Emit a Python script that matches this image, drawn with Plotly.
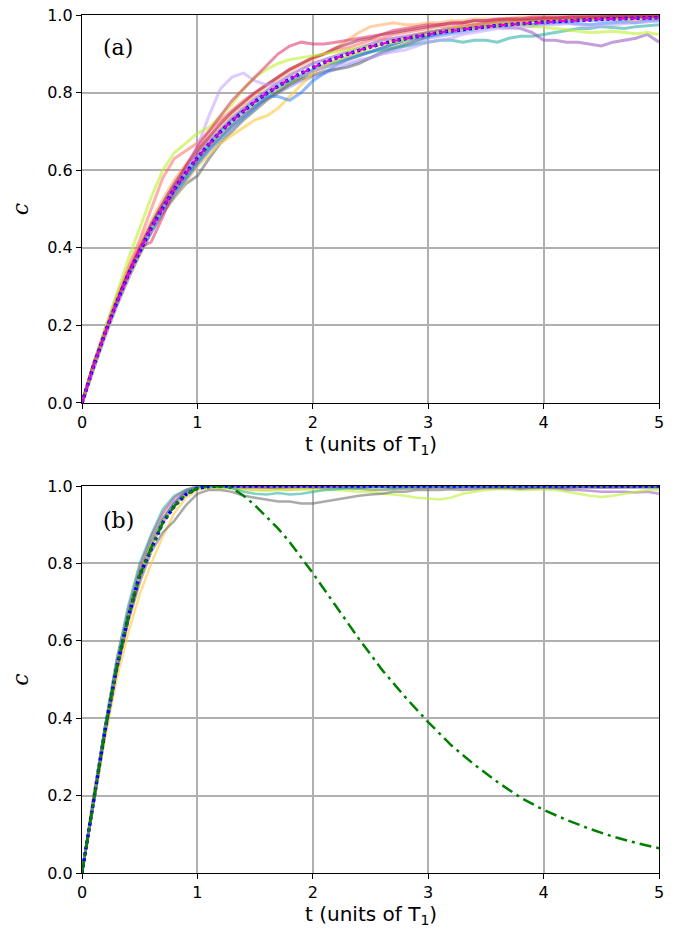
import plotly.graph_objects as go

# ---------------- data ----------------
t_grid = [round(0.1 * i, 1) for i in range(51)]

# panel (a): averaged curves
mean_a = [0.000, 0.095, 0.181, 0.259, 0.330, 0.393, 0.451, 0.503, 0.551, 0.593, 0.632,
          0.667, 0.699, 0.727, 0.753, 0.777, 0.798, 0.817, 0.835, 0.850, 0.865,
          0.878, 0.889, 0.900, 0.909, 0.918, 0.926, 0.933, 0.939, 0.945, 0.950,
          0.955, 0.959, 0.963, 0.967, 0.970, 0.973, 0.975, 0.978, 0.980, 0.982,
          0.983, 0.985, 0.986, 0.988, 0.989, 0.990, 0.991, 0.992, 0.993, 0.993]

# panel (a): individual trajectories
a_greenyellow = [0, .10, .19, .28, .37, .45, .53, .60, .645, .67, .695,
                 .71, .74, .77, .81, .84, .86, .875, .885, .89, .895,
                 .90, .905, .91, .915, .92, .925, .93, .935, .945, .95,
                 .955, .96, .962, .966, .97, .972, .975, .975, .972, .968,
                 .966, .962, .958, .955, .956, .958, .955, .952, .955, .950]
a_lavender = [0, .09, .17, .25, .32, .39, .45, .50, .55, .60, .66,
              .74, .81, .84, .85, .83, .82, .825, .835, .845, .855,
              .865, .87, .875, .885, .89, .90, .905, .91, .92, .93,
              .935, .94, .95, .955, .96, .965, .965, .97, .97, .975,
              .975, .978, .975, .97, .972, .975, .978, .98, .982, .985]
a_crimson = [0, .10, .18, .26, .33, .40, .415, .48, .55, .61, .66,
             .70, .74, .78, .81, .84, .87, .90, .92, .93, .925,
             .925, .93, .935, .94, .945, .95, .96, .965, .97, .975,
             .975, .98, .98, .985, .985, .99, .99, .99, .995, .995,
             .995, .995, .998, .998, .998, .998, .998, .998, .998, .998]
a_gold = [0, .09, .17, .25, .32, .38, .44, .49, .53, .57, .61,
          .64, .67, .69, .71, .73, .74, .76, .79, .82, .85,
          .87, .885, .895, .905, .915, .925, .935, .94, .95, .955,
          .96, .965, .97, .97, .975, .978, .98, .982, .985, .985,
          .988, .99, .99, .99, .992, .99, .99, .988, .99, .99]
a_dodger = [0, .095, .18, .255, .325, .385, .44, .49, .535, .575, .615,
            .65, .68, .71, .735, .76, .79, .79, .78, .80, .83,
            .85, .87, .885, .895, .905, .915, .925, .935, .94, .945,
            .95, .955, .96, .965, .97, .972, .975, .975, .975, .978,
            .98, .98, .978, .975, .978, .98, .982, .98, .985, .985]
a_teal = [0, .10, .185, .26, .33, .39, .45, .50, .55, .59, .63,
          .665, .70, .73, .755, .775, .795, .815, .83, .845, .86,
          .87, .88, .89, .90, .905, .91, .915, .92, .925, .93,
          .935, .935, .93, .935, .935, .93, .94, .945, .945, .95,
          .955, .96, .965, .965, .97, .968, .965, .97, .972, .975]
a_orchid = [0, .095, .18, .26, .335, .40, .46, .51, .56, .60, .64,
            .675, .705, .735, .76, .785, .805, .825, .845, .86, .875,
            .885, .895, .905, .915, .925, .935, .94, .945, .95, .955,
            .96, .962, .965, .968, .97, .97, .968, .965, .955, .935,
            .935, .93, .93, .925, .92, .93, .935, .94, .95, .93]
a_gray = [0, .09, .175, .25, .32, .385, .44, .49, .53, .565, .585,
          .63, .67, .70, .73, .755, .78, .80, .82, .835, .845,
          .855, .86, .865, .875, .89, .905, .915, .925, .935, .945,
          .955, .96, .965, .97, .975, .978, .98, .985, .985, .988,
          .99, .99, .992, .992, .995, .995, .995, .995, .995, .995]
a_peach = [0, .10, .19, .27, .345, .41, .47, .525, .575, .615, .65,
           .685, .715, .745, .77, .795, .815, .835, .855, .87, .885,
           .90, .915, .935, .955, .97, .975, .98, .975, .975, .98,
           .98, .985, .985, .99, .99, .99, .992, .995, .995, .995,
           .995, .995, .996, .996, .997, .997, .997, .997, .998, .998]
a_salmon = [0, .10, .19, .275, .35, .42, .50, .58, .63, .65, .67,
            .70, .73, .755, .78, .80, .82, .84, .86, .875, .89,
            .90, .91, .915, .925, .935, .94, .95, .955, .96, .965,
            .97, .97, .975, .975, .98, .985, .985, .985, .99, .99,
            .99, .992, .992, .995, .995, .995, .995, .996, .996, .996]
a_olive = [0, .095, .18, .26, .33, .39, .45, .50, .545, .58, .62,
           .655, .685, .715, .74, .765, .785, .805, .825, .84, .855,
           .865, .875, .885, .895, .905, .915, .925, .935, .945, .955,
           .96, .965, .97, .975, .978, .98, .982, .985, .985, .987,
           .988, .99, .99, .99, .992, .992, .994, .994, .995, .995]
a_maroon = [0, .10, .185, .265, .335, .40, .46, .515, .565, .61, .65,
            .685, .72, .75, .775, .80, .82, .84, .86, .875, .89,
            .90, .915, .925, .935, .94, .95, .955, .96, .965, .97,
            .975, .978, .98, .985, .985, .988, .99, .99, .99, .992,
            .992, .994, .994, .995, .995, .996, .996, .996, .996, .997]
a_periwinkle = [0, .09, .175, .255, .325, .385, .445, .495, .545, .585, .625,
                .66, .69, .72, .745, .765, .785, .80, .815, .83, .84,
                .85, .86, .87, .88, .89, .90, .91, .92, .93, .94,
                .945, .95, .955, .96, .965, .97, .972, .975, .975, .978,
                .98, .982, .985, .985, .986, .988, .988, .99, .99, .99]

# panel (b): averaged curve
mean_b = [0, .19, .37, .53, .66, .77, .84, .905, .948, .978, .994,
          .999, 1, 1, 1, 1, 1, 1, 1, 1, 1,
          1, 1, 1, 1, 1, 1, 1, 1, 1, 1,
          1, 1, 1, 1, 1, 1, 1, 1, 1, 1,
          1, 1, 1, 1, 1, 1, 1, 1, 1, 1]

# panel (b): green dash-dot curve
t_green = [0, .1, .2, .3, .4, .5, .6, .7, .8, .9, 1.0, 1.1, 1.2, 1.3, 1.4, 1.5, 1.6, 1.7, 1.8, 1.9,
           2.0, 2.2, 2.4, 2.6, 2.8, 3.0, 3.2, 3.4, 3.6, 3.8, 4.0, 4.2, 4.4, 4.6, 4.8, 5.0]
c_green = [0, .19, .37, .53, .66, .77, .84, .905, .948, .978, .994, .999, 1.0, .995, .975, .95, .92,
           .89, .855, .815, .775, .69, .605, .525, .455, .39, .33, .28, .235, .195, .163, .137,
           .114, .094, .078, .064]

# panel (b): individual trajectories
b_teal = [0, .19, .38, .55, .69, .80, .875, .94, .975, .99, .998,
          1.0, 1.0, .995, .985, .98, .978, .982, .978, .98, .985,
          .99, .992, .995, .995, .997, .997, .995, .997, .998, .998,
          .998, .997, .998, .998, .999, .998, .998, .999, .999, .998,
          .998, .999, .998, .998, .999, .999, .998, .998, .999, .999]
b_gray = [0, .185, .36, .52, .65, .75, .83, .88, .91, .95, .98,
          .99, .99, .985, .975, .97, .965, .96, .96, .955, .955,
          .96, .965, .97, .975, .978, .98, .985, .985, .99, .99,
          .99, .992, .99, .992, .995, .995, .995, .993, .995, .995,
          .995, .995, .997, .997, .997, .997, .997, .997, .997, .997]
b_gold = [0, .18, .35, .50, .62, .72, .80, .87, .93, .97, .99,
          .997, 1.0, .998, .999, 1.0, .999, .998, .999, 1.0, .999,
          1.0, .999, .998, .999, 1.0, .999, .999, 1.0, .999, .998,
          .999, 1.0, .999, .999, .998, .999, 1.0, .999, .998, .999,
          1.0, .999, .999, .998, .999, 1.0, .999, .999, .998, .999]
b_greenyellow = [0, .19, .37, .53, .66, .77, .85, .91, .95, .98, .993,
                 .995, .995, .993, .99, .99, .988, .99, .99, .992, .99,
                 .99, .99, .988, .985, .985, .98, .978, .975, .97, .968,
                 .965, .97, .98, .985, .99, .992, .992, .99, .99, .992,
                 .99, .985, .98, .975, .972, .975, .98, .985, .99, .99]
b_orchid = [0, .19, .37, .53, .66, .77, .85, .91, .955, .985, .997,
            .998, .999, .998, .999, .998, .999, .998, .998, .999, .998,
            .999, .998, .998, .997, .998, .998, .997, .998, .998, .997,
            .998, .997, .996, .997, .998, .997, .996, .996, .997, .996,
            .995, .99, .99, .988, .985, .985, .985, .983, .985, .98]
b_crimson = [0, .20, .38, .55, .68, .79, .87, .93, .97, .99, 1.0,
             1.0, 1.0, 1.0, 1.0, 1.0, 1.0, 1.0, 1.0, 1.0, 1.0,
             1.0, 1.0, 1.0, 1.0, 1.0, .999, .999, 1.0, 1.0, 1.0,
             1.0, 1.0, .999, 1.0, 1.0, 1.0, 1.0, .999, 1.0, 1.0,
             1.0, 1.0, 1.0, .999, 1.0, 1.0, 1.0, 1.0, .999, .998]
b_salmon = [0, .19, .36, .52, .65, .76, .845, .905, .95, .98, .995,
            .998, .999, .998, .997, .996, .997, .998, .997, .998, .998,
            .999, .998, .997, .998, .999, .998, .998, .999, .998, .998,
            .999, .998, .998, .999, .998, .998, .997, .998, .998, .999,
            .998, .998, .999, .998, .997, .998, .998, .999, .998, .998]
b_dodger = [0, .19, .37, .53, .66, .77, .855, .915, .96, .985, .997,
            1.0, 1.0, 1.0, 1.0, .999, 1.0, 1.0, 1.0, 1.0, 1.0,
            1.0, 1.0, .999, 1.0, 1.0, 1.0, 1.0, 1.0, 1.0, .999,
            1.0, 1.0, 1.0, 1.0, 1.0, .999, 1.0, 1.0, 1.0, 1.0,
            1.0, 1.0, 1.0, 1.0, 1.0, .999, 1.0, 1.0, 1.0, 1.0]
b_lavender = [0, .185, .365, .525, .655, .765, .845, .905, .95, .98, .995,
              .998, .998, .999, .998, .998, .997, .998, .998, .999, .998,
              .998, .997, .998, .998, .997, .998, .999, .998, .997, .997,
              .998, .998, .997, .998, .998, .997, .996, .997, .998, .997,
              .996, .997, .998, .997, .996, .995, .996, .997, .996, .995]
b_olive = [0, .19, .37, .53, .665, .775, .855, .915, .955, .985, .997,
           .997, .998, .997, .996, .997, .996, .995, .996, .997, .996,
           .995, .995, .994, .993, .99, .99, .992, .993, .995, .996,
           .997, .996, .997, .998, .997, .997, .998, .997, .996, .997,
           .998, .997, .997, .998, .998, .997, .998, .998, .997, .998]
b_peach = [0, .19, .37, .535, .665, .775, .85, .91, .955, .985, .996,
           .998, .997, .995, .993, .99, .99, .992, .99, .993, .995,
           .996, .997, .998, .997, .998, .999, .998, .998, .999, .998,
           .999, .998, .999, .999, .998, .999, .999, .998, .999, .999,
           .998, .999, .999, .998, .999, .999, .998, .999, .999, .999]

panel_a = [
    (a_periwinkle, "rgba(140,150,255,0.55)"),
    (a_olive, "rgba(100,120,40,0.55)"),
    (a_gray, "rgba(100,100,100,0.55)"),
    (a_teal, "rgba(30,170,160,0.55)"),
    (a_gold, "rgba(255,200,60,0.6)"),
    (a_dodger, "rgba(50,130,255,0.55)"),
    (a_orchid, "rgba(150,80,190,0.55)"),
    (a_peach, "rgba(255,170,90,0.55)"),
    (a_salmon, "rgba(255,110,100,0.55)"),
    (a_maroon, "rgba(170,30,70,0.55)"),
    (a_lavender, "rgba(190,160,255,0.55)"),
    (a_greenyellow, "rgba(190,240,50,0.6)"),
    (a_crimson, "rgba(220,50,100,0.55)"),
]
panel_b = [
    (b_lavender, "rgba(190,160,255,0.55)"),
    (b_peach, "rgba(255,170,90,0.55)"),
    (b_salmon, "rgba(255,110,100,0.55)"),
    (b_olive, "rgba(100,120,40,0.55)"),
    (b_gold, "rgba(255,200,60,0.6)"),
    (b_crimson, "rgba(220,50,100,0.55)"),
    (b_dodger, "rgba(50,130,255,0.55)"),
    (b_orchid, "rgba(150,80,190,0.55)"),
    (b_greenyellow, "rgba(190,240,50,0.6)"),
    (b_teal, "rgba(30,170,160,0.55)"),
    (b_gray, "rgba(100,100,100,0.55)"),
]

# ---------------- figure ----------------
fig = go.Figure()

for vals, col in panel_a:
    fig.add_trace(go.Scatter(x=t_grid, y=vals, mode="lines", xaxis="x", yaxis="y",
                             line=dict(color=col, width=3), hoverinfo="skip", showlegend=False))
fig.add_trace(go.Scatter(x=t_grid, y=mean_a, mode="lines", xaxis="x", yaxis="y",
                         line=dict(color="blue", width=3.5, dash="3px,3px"), showlegend=False))
fig.add_trace(go.Scatter(x=t_grid, y=mean_a, mode="lines", xaxis="x", yaxis="y",
                         line=dict(color="#e000e0", width=2, dash="8px,4px"), showlegend=False))

for vals, col in panel_b:
    fig.add_trace(go.Scatter(x=t_grid, y=vals, mode="lines", xaxis="x2", yaxis="y2",
                             line=dict(color=col, width=2.5), hoverinfo="skip", showlegend=False))
fig.add_trace(go.Scatter(x=t_grid, y=mean_b, mode="lines", xaxis="x2", yaxis="y2",
                         line=dict(color="blue", width=3.5, dash="3px,3px"), showlegend=False))
fig.add_trace(go.Scatter(x=t_green, y=c_green, mode="lines", xaxis="x2", yaxis="y2",
                         line=dict(color="green", width=2.5, dash="12px,5px,3px,5px"), showlegend=False))

tickfont = dict(family="DejaVu Sans", size=16, color="black")
ytitle = dict(text="<i>c</i>", font=dict(family="DejaVu Serif", size=22, color="black"), standoff=12)
xtitle_font = dict(family="DejaVu Sans", size=20, color="black")

common_x = dict(range=[0, 5], dtick=1, tick0=0, showgrid=True, gridcolor="#b0b0b0", gridwidth=1.5,
                showline=True, linecolor="black", linewidth=1.3, mirror=True, ticks="outside",
                ticklen=5, tickcolor="black", tickfont=tickfont, zeroline=False, automargin=False)
common_y = dict(range=[0, 1], dtick=0.2, tick0=0, tickformat=".1f", showgrid=True, gridcolor="#b0b0b0",
                gridwidth=1.5, showline=True, linecolor="black", linewidth=1.3, mirror=True,
                ticks="outside", ticklen=5, tickcolor="black", tickfont=tickfont, zeroline=False,
                automargin=False)

fig.update_layout(
    width=682, height=938,
    margin=dict(l=82, r=23, t=15, b=65),
    paper_bgcolor="white", plot_bgcolor="white",
    xaxis=dict(**common_x, domain=[0, 1], anchor="y"),
    yaxis=dict(**common_y, domain=[0.5478, 1], anchor="x", title=ytitle),
    xaxis2=dict(**common_x, domain=[0, 1], anchor="y2"),
    yaxis2=dict(**common_y, domain=[0, 0.451], anchor="x2", title=ytitle),
    annotations=[
        dict(text="(a)", x=0.316, y=0.915, xref="x", yref="y", showarrow=False,
             font=dict(family="DejaVu Serif", size=22, color="black")),
        dict(text="(b)", x=0.316, y=0.91, xref="x2", yref="y2", showarrow=False,
             font=dict(family="DejaVu Serif", size=22, color="black")),
        dict(text="t (units of T<sub>1</sub>)", x=0.5, y=0.4985, xref="paper", yref="paper",
             xanchor="center", yanchor="middle", showarrow=False, font=xtitle_font),
        dict(text="t (units of T<sub>1</sub>)", x=0.5, y=-0.0485, xref="paper", yref="paper",
             xanchor="center", yanchor="middle", showarrow=False, font=xtitle_font),
    ],
)

# remove the default page margin so the figure sits at the window's corner
fig.write_html("out.html", config={"displayModeBar": False},
               post_script="document.body.style.margin='0px';")
